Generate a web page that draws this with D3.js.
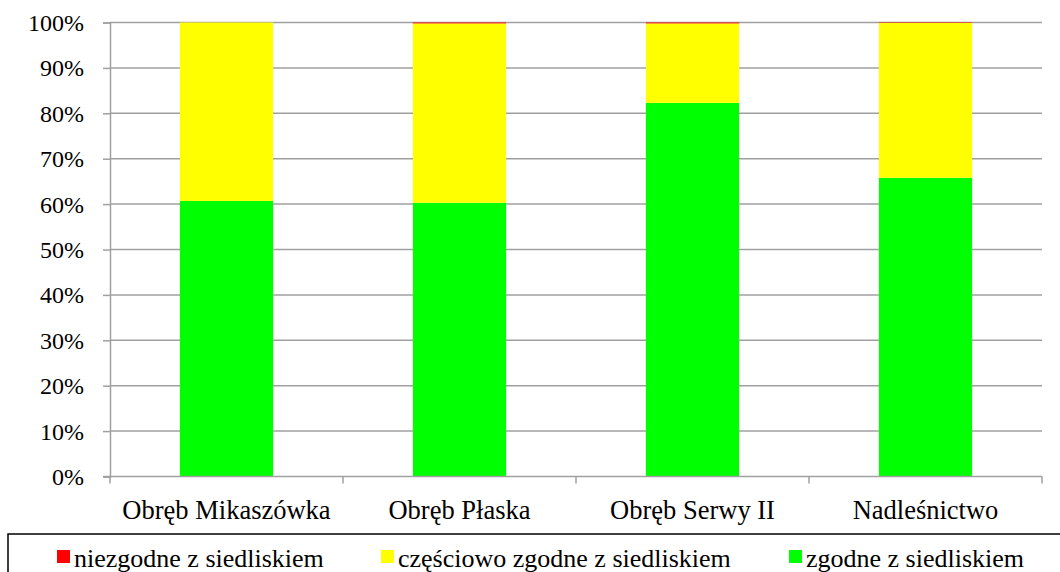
<!DOCTYPE html>
<html>
<head>
<meta charset="utf-8">
<script src="https://cdn.jsdelivr.net/npm/d3@7"></script>
<style>
  html, body { margin: 0; padding: 0; background: #fff; }
  svg { display: block; }
</style>
</head>
<body>
<script>
const categories = ["Obręb Mikaszówka", "Obręb Płaska", "Obręb Serwy II", "Nadleśnictwo"];
const seriesNames = ["zgodne z siedliskiem", "częściowo zgodne z siedliskiem", "niezgodne z siedliskiem"];
const zgodne = [60.7, 60.3, 82.3, 65.8];
const niezgodne = [0.0, 0.2, 0.2, 0.1];
const czesciowo = [39.3, 39.5, 17.5, 34.1];
const yTicks = [0, 10, 20, 30, 40, 50, 60, 70, 80, 90, 100];
const legendOrder = ["niezgodne z siedliskiem", "częściowo zgodne z siedliskiem", "zgodne z siedliskiem"];
const colors = {
  "zgodne z siedliskiem": "#00ff00",
  "częściowo zgodne z siedliskiem": "#ffff00",
  "niezgodne z siedliskiem": "#ff0000"
};
const FONT = "'Liberation Serif', 'DejaVu Serif', serif";

const W = 1060, H = 572;
const svg = d3.select("body").append("svg").attr("width", W).attr("height", H);

const x = d3.scaleBand().domain(categories).range([110, 1042]).paddingInner(0.6).paddingOuter(0.3);
const y = d3.scaleLinear().domain([0, 100]).range([476.5, 22.5]);

const data = categories.map((c, i) => ({
  cat: c,
  "zgodne z siedliskiem": zgodne[i],
  "częściowo zgodne z siedliskiem": czesciowo[i],
  "niezgodne z siedliskiem": niezgodne[i]
}));
const stack = d3.stack().keys(seriesNames)(data);

svg.append("g").selectAll("line").data(yTicks.filter(d => d > 0)).join("line")
  .attr("x1", 110).attr("x2", 1042)
  .attr("y1", d => y(d)).attr("y2", d => y(d))
  .attr("stroke", "#a0a0a0").attr("stroke-width", 1.5);

svg.append("g").selectAll("g").data(stack).join("g")
  .attr("fill", d => colors[d.key])
  .selectAll("rect").data(d => d).join("rect")
  .attr("x", d => x(d.data.cat))
  .attr("width", x.bandwidth())
  .attr("y", d => y(d[1]))
  .attr("height", d => Math.max(0, y(d[0]) - y(d[1])));

const yAxis = d3.axisLeft(y).tickValues(yTicks).tickFormat(d => d + "%").tickSize(7).tickPadding(19);
const gy = svg.append("g").attr("transform", "translate(110,0)").call(yAxis);
gy.attr("font-family", FONT).attr("font-size", 24);
gy.select(".domain").attr("stroke", "#a0a0a0").attr("stroke-width", 1.5);
gy.selectAll(".tick line").attr("stroke", "#a0a0a0").attr("stroke-width", 1.5);
gy.selectAll(".tick text").attr("font-family", FONT).attr("font-size", 24).attr("fill", "#000").attr("dy", "0.33em");

const gx = svg.append("g").attr("transform", `translate(0,${y(0)})`);
gx.append("line").attr("x1", 103).attr("x2", 1042).attr("y1", 0).attr("y2", 0)
  .attr("stroke", "#a0a0a0").attr("stroke-width", 1.5);
const boundaries = d3.range(categories.length + 1).map(i => 110 + i * (932 / categories.length));
gx.selectAll("line.tk").data(boundaries).join("line").attr("class", "tk")
  .attr("x1", d => d).attr("x2", d => d).attr("y1", 0).attr("y2", 7)
  .attr("stroke", "#a0a0a0").attr("stroke-width", 1.5);
gx.selectAll("text").data(categories).join("text")
  .attr("x", d => x(d) + x.bandwidth() / 2)
  .attr("y", 42)
  .attr("text-anchor", "middle")
  .attr("font-family", FONT).attr("font-size", 26.5)
  .text(d => d);

svg.append("rect").attr("x", 8).attr("y", 534).attr("width", 1070).attr("height", 60)
  .attr("fill", "none").attr("stroke", "#000").attr("stroke-width", 1.5);
const legendX = [57, 381, 789];
const lg = svg.append("g").selectAll("g").data(legendOrder).join("g")
  .attr("transform", (d, i) => `translate(${legendX[i]},0)`);
lg.append("rect").attr("x", 0).attr("y", 550).attr("width", 13).attr("height", 13)
  .attr("fill", d => colors[d]);
lg.append("text").attr("x", 17).attr("y", 567).attr("font-family", FONT).attr("font-size", 26).text(d => d);
</script>
</body>
</html>
